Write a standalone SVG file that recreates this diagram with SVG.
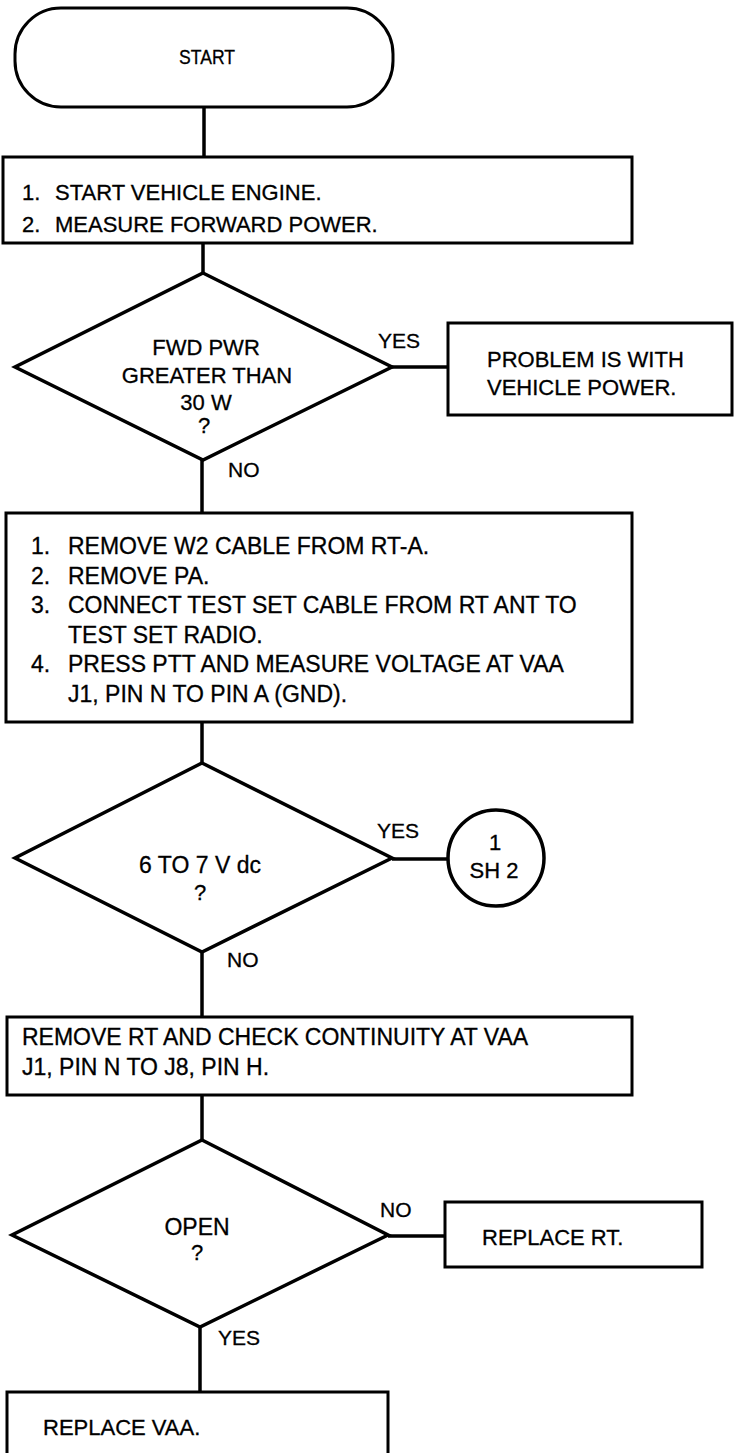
<svg xmlns="http://www.w3.org/2000/svg" width="734" height="1453" viewBox="0 0 734 1453">
<style>
.s{fill:#fff;stroke:#000;stroke-width:3}
.c{fill:none;stroke:#000;stroke-width:3.5}
text{font-family:"Liberation Sans",Arial,sans-serif;fill:#000;stroke:#000;stroke-width:0.3}
.t21{font-size:21px}
.t23{font-size:23px}
.t22{font-size:22px}
.m{text-anchor:middle}
</style>
<rect x="0" y="0" width="734" height="1453" fill="#fff"/>
<g id="connectors">
<line class="c" x1="204" y1="107" x2="204" y2="157"/>
<line class="c" x1="203" y1="243" x2="203" y2="273"/>
<line class="c" x1="392" y1="367" x2="448" y2="367"/>
<line class="c" x1="202" y1="460" x2="202" y2="513"/>
<line class="c" x1="202" y1="722" x2="202" y2="763"/>
<line class="c" x1="392" y1="859" x2="448" y2="859"/>
<line class="c" x1="202" y1="952" x2="202" y2="1017"/>
<line class="c" x1="202" y1="1095" x2="202" y2="1140"/>
<line class="c" x1="388" y1="1236" x2="445" y2="1236"/>
<line class="c" x1="200" y1="1327" x2="200" y2="1392"/>
<text class="t21" x="378" y="348">YES</text>
<text class="t21" x="228" y="477">NO</text>
<text class="t21" x="377" y="838">YES</text>
<text class="t21" x="227" y="967">NO</text>
<text class="t21" x="380" y="1217">NO</text>
<text class="t21" x="218" y="1345">YES</text>
</g>
<g id="start">
<rect class="s" x="15" y="8" width="378" height="99" rx="46" ry="46"/>
<text class="m" x="207" y="64" font-size="20" textLength="56" lengthAdjust="spacingAndGlyphs">START</text>
</g>
<g id="step1">
<rect class="s" x="3" y="157" width="629" height="86"/>
<text class="t22" x="22" y="200">1.</text>
<text class="t22" x="55" y="200">START VEHICLE ENGINE.</text>
<text class="t22" x="22" y="232">2.</text>
<text class="t22" x="55" y="232">MEASURE FORWARD POWER.</text>
</g>
<g id="decision1">
<polygon class="c" fill="#fff" points="203,273 392,367 203,460 15,367"/>
<text class="t22 m" x="206" y="355">FWD PWR</text>
<text class="t22 m" x="207" y="383">GREATER THAN</text>
<text class="t22 m" x="206" y="410">30 W</text>
<text class="t22 m" x="204" y="433">?</text>
</g>
<g id="vehiclepower">
<rect class="s" x="448" y="323" width="284" height="92"/>
<text class="t22" x="487" y="367">PROBLEM IS WITH</text>
<text class="t22" x="487" y="395">VEHICLE POWER.</text>
</g>
<g id="step2">
<rect class="s" x="6" y="513" width="626" height="209"/>
<text class="t23" x="31" y="554">1.</text>
<text class="t23" x="68" y="554">REMOVE W2 CABLE FROM RT-A.</text>
<text class="t23" x="31" y="584">2.</text>
<text class="t23" x="68" y="584">REMOVE PA.</text>
<text class="t23" x="31" y="613">3.</text>
<text class="t23" x="68" y="613">CONNECT TEST SET CABLE FROM RT ANT TO</text>
<text class="t23" x="68" y="643">TEST SET RADIO.</text>
<text class="t23" x="31" y="672">4.</text>
<text class="t23" x="68" y="672">PRESS PTT AND MEASURE VOLTAGE AT VAA</text>
<text class="t23" x="68" y="702">J1, PIN N TO PIN A (GND).</text>
</g>
<g id="decision2">
<polygon class="c" fill="#fff" points="202,763 392,858 202,952 15,858"/>
<text class="t23 m" x="200" y="873">6 TO 7 V dc</text>
<text class="t22 m" x="200" y="900">?</text>
</g>
<g id="sheet2">
<circle class="c" fill="#fff" cx="496" cy="858" r="48"/>
<text class="t22 m" x="495" y="850">1</text>
<text class="t22 m" x="494" y="878">SH 2</text>
</g>
<g id="step3">
<rect class="s" x="7" y="1017" width="625" height="78"/>
<text class="t23" x="22" y="1045">REMOVE RT AND CHECK CONTINUITY AT VAA</text>
<text class="t23" x="22" y="1075">J1, PIN N TO J8, PIN H.</text>
</g>
<g id="decision3">
<polygon class="c" fill="#fff" points="202,1140 388,1235 200,1327 12,1235"/>
<text class="t23 m" x="197" y="1235">OPEN</text>
<text class="t22 m" x="197" y="1260">?</text>
</g>
<g id="replacert">
<rect class="s" x="445" y="1202" width="257" height="65"/>
<text class="t22" x="482" y="1245">REPLACE RT.</text>
</g>
<g id="replacevaa">
<rect class="s" x="7" y="1392" width="381" height="80"/>
<text class="t22" x="43" y="1435">REPLACE VAA.</text>
</g>
</svg>
